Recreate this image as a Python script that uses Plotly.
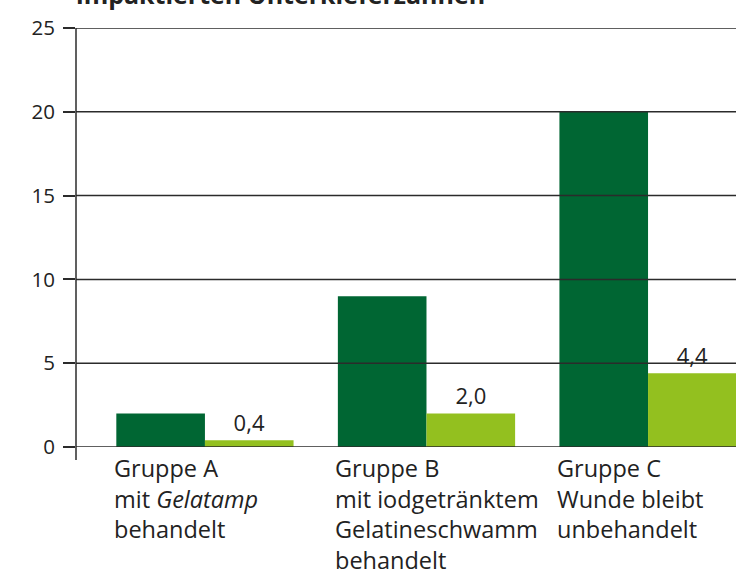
import plotly.graph_objects as go

categories = [0, 1, 2]
category_labels = [
    "Gruppe A<br>mit <i>Gelatamp</i><br>behandelt",
    "Gruppe B<br>mit iodgetränktem<br>Gelatineschwamm<br>behandelt",
    "Gruppe C<br>Wunde bleibt<br>unbehandelt",
]
dark_values = [2.0, 9.0, 20.0]
light_values = [0.4, 2.0, 4.4]
y_ticks = [0, 5, 10, 15, 20, 25]
title_text = "impaktierten Unterkieferzähnen"

DARK = "#006633"
LIGHT = "#93C01F"
INK = "#222222"
LINE = "#2b2b2b"
FONT = "Open Sans"

fig = go.Figure()
fig.add_trace(go.Bar(x=categories, y=dark_values, marker=dict(color=DARK, line=dict(width=0)),
                     hoverinfo="skip"))
fig.add_trace(go.Bar(x=categories, y=light_values, marker=dict(color=LIGHT, line=dict(width=0)),
                     text=[f"{v:.1f}".replace(".", ",") for v in light_values],
                     textposition="outside", cliponaxis=False,
                     textfont=dict(family=FONT, size=22, color=INK), hoverinfo="skip"))

# gridlines drawn above bars
for t in y_ticks:
    fig.add_shape(type="line", xref="paper", yref="y", x0=0, x1=1, y0=t, y1=t,
                  line=dict(color=LINE, width=1.5), layer="above")
# vertical axis line extending slightly below zero
fig.add_shape(type="line", xref="paper", yref="paper", x0=0, x1=0, y0=-13 / 419, y1=1,
              line=dict(color=LINE, width=1.5), layer="above")

for c, lab in zip(categories, category_labels):
    fig.add_annotation(x=c - 0.42, y=-0.008, xref="x", yref="paper", text=lab,
                       showarrow=False, xanchor="left", yanchor="top", align="left",
                       font=dict(family=FONT, size=23.5, color=INK))

fig.add_annotation(x=-0.003, y=1.035, xref="paper", yref="paper", text=f"<b>{title_text}</b>",
                   showarrow=False, xanchor="left", yanchor="bottom",
                   font=dict(family=FONT, size=25, color=INK))

fig.update_layout(
    width=736, height=573,
    margin=dict(l=76, r=0, t=28, b=126),
    paper_bgcolor="white", plot_bgcolor="white",
    barmode="group", bargap=0.2, bargroupgap=0,
    showlegend=False,
    font=dict(family=FONT, size=21, color=INK),
)
fig.update_xaxes(range=[-0.582, 2.397], showgrid=False, showticklabels=False, ticks="",
                 zeroline=False, showline=False, fixedrange=True)
fig.update_yaxes(range=[0, 25], tickvals=y_ticks, ticktext=[str(t) for t in y_ticks],
                 showgrid=False, zeroline=False, showline=False,
                 ticks="outside", ticklen=12, tickwidth=1.5, tickcolor=LINE,
                 tickfont=dict(family=FONT, size=20.5, color=INK), ticklabelstandoff=4,
                 fixedrange=True)

fig.write_html("out.html", config={"displayModeBar": False},
               post_script="document.body.style.margin='0';")
